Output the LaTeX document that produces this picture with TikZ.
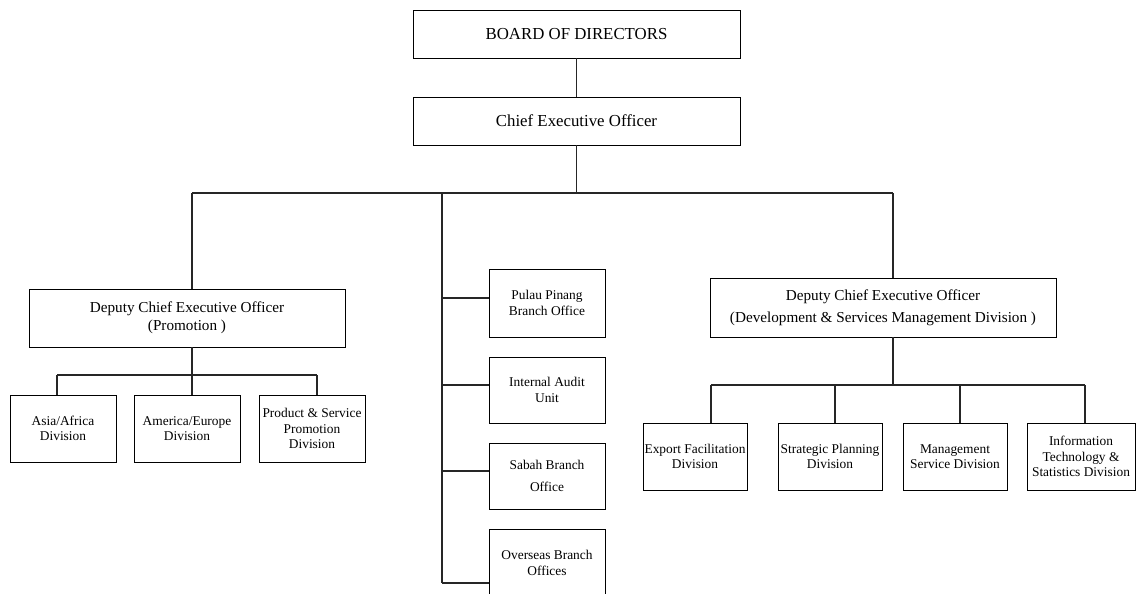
\documentclass[tikz,border=0pt]{standalone}
\usepackage{fontspec}
\setmainfont{Liberation Serif}
\begin{document}
\begin{tikzpicture}[x=1pt,y=-1pt,
  box/.style={draw=black, line width=0.9pt, rectangle, inner sep=0pt, align=center, anchor=center},
  wire/.style={draw=black!85, line width=1.1pt},
  big/.style={font=\fontsize{16.8}{20}\selectfont},
  mid/.style={font=\fontsize{15.2}{18.3}\selectfont},
  midwide/.style={font=\fontsize{15.2}{21.7}\selectfont},
  small/.style={font=\fontsize{13.4}{15.5}\selectfont},
  divbox/.style={box, small, minimum width=106pt, minimum height=67pt},
  officebox/.style={box, small, minimum width=116pt, minimum height=66pt},
  devbox/.style={box, small, minimum width=104pt, minimum height=67pt}]
\useasboundingbox (0,0) rectangle (1136,594);

% top of the hierarchy
\node[box, big, minimum width=327pt, minimum height=48pt] (bod) at (576.5,34) {BOARD OF DIRECTORS};
\node[box, big, minimum width=327pt, minimum height=48pt] (ceo) at (576.5,121) {Chief Executive Officer};

% deputy chief executives
\node[box, mid, minimum width=316pt, minimum height=58pt] (d1) at (187,318)
  {Deputy Chief Executive Officer\\(Promotion )};
\node[box, midwide, minimum width=346pt, minimum height=59pt] (d2) at (883,307.5)
  {Deputy Chief Executive Officer\\(Development \& Services Management Division )};

% promotion divisions
\node[divbox] (a1) at (63,428.5) {Asia/Africa\\Division};
\node[divbox] (a2) at (187,428.5) {America/Europe\\Division};
\node[divbox] (a3) at (312,428.5) {Product \& Service\\Promotion\\Division};

% offices reporting directly to the chief executive
\node[officebox, minimum height=68pt] (m1) at (547,303) {Pulau Pinang\\Branch Office};
\node[officebox] (m2) at (547,390) {Internal Audit\\Unit};
\node[officebox] (m3) at (547,476) {Sabah Branch\\[7pt]Office};
\node[officebox, minimum height=68pt] (m4) at (547,563) {Overseas Branch\\Offices};

% development and services divisions
\node[devbox] (e1) at (695,456.5) {Export Facilitation\\Division};
\node[devbox] (e2) at (830,456.5) {Strategic Planning\\Division};
\node[devbox] (e3) at (955,456.5) {Management\\Service Division};
\node[devbox, minimum width=108pt] (e4) at (1081,456.5) {Information\\Technology \&\\Statistics Division};

% junction points
\coordinate (jl) at (192,193);
\coordinate (jm) at (442,193);
\coordinate (jr) at (893,193);
\coordinate (pl) at (192,375);
\coordinate (pa1) at (57,375);
\coordinate (pa2) at (192,375);
\coordinate (pa3) at (317,375);
\coordinate (b1) at (442,298);
\coordinate (b2) at (442,385);
\coordinate (b3) at (442,471);
\coordinate (b4) at (442,583);
\coordinate (pr) at (893,385);
\coordinate (pe1) at (711,385);
\coordinate (pe2) at (835,385);
\coordinate (pe3) at (960,385);
\coordinate (pe4) at (1085,385);

% connectors
\draw[wire] (bod) -- (ceo);
\draw[wire] (ceo.south) -- (ceo.south |- jl);
\draw[wire] (jl) -- (jr);
\draw[wire] (jl) -- (jl |- d1.north);
\draw[wire] (jr) -- (jr |- d2.north);

\draw[wire] (pl |- d1.south) -- (pl);
\draw[wire] (pa1) -- (pa3);
\draw[wire] (pa1) -- (pa1 |- a1.north);
\draw[wire] (pa2) -- (pa2 |- a2.north);
\draw[wire] (pa3) -- (pa3 |- a3.north);

\draw[wire] (jm) -- (b4);
\draw[wire] (b1) -- (b1 -| m1.west);
\draw[wire] (b2) -- (b2 -| m2.west);
\draw[wire] (b3) -- (b3 -| m3.west);
\draw[wire] (b4) -- (b4 -| m4.west);

\draw[wire] (pr |- d2.south) -- (pr);
\draw[wire] (pe1) -- (pe4);
\draw[wire] (pe1) -- (pe1 |- e1.north);
\draw[wire] (pe2) -- (pe2 |- e2.north);
\draw[wire] (pe3) -- (pe3 |- e3.north);
\draw[wire] (pe4) -- (pe4 |- e4.north);
\end{tikzpicture}
\end{document}
